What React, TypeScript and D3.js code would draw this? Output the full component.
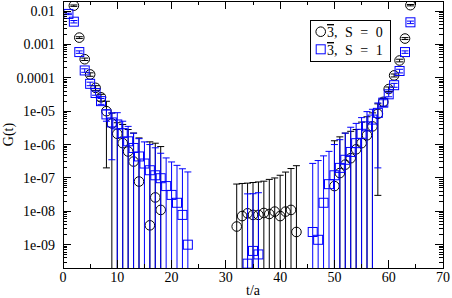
import React from "react";
import * as d3 from "d3";

// S = 0 (circles)
const tS0 = [2, 3, 4, 5, 6, 7, 8, 9, 10, 11, 12, 13, 14, 16, 17, 18,
  32, 33, 34, 35, 36, 37, 38, 39, 40, 41, 42, 43,
  50, 51, 52, 53, 54, 55, 56, 57, 58, 59, 60, 61, 62, 63, 64];
const gS0 = [0.0145, 0.0016, 3.6e-4, 1.26e-4, 5.0e-5, 2.6e-5, 1.0e-5, 4.3e-6, 2.1e-6, 1.1e-6, 6.2e-7, 3.1e-7, 7.8e-8, 3.8e-9, 2.6e-8, 1.1e-8,
  3.5e-9, 7.2e-9, 8.7e-9, 7.8e-9, 7.8e-9, 8.9e-9, 8.3e-9, 9.8e-9, 7.2e-9, 9.8e-9, 1.1e-8, 2.4e-9,
  5.7e-8, 1.4e-7, 2.5e-7, 3.9e-7, 7.2e-7, 1.1e-6, 1.9e-6, 3.5e-6, 8.3e-6, 1.9e-5, 4.6e-5, 1.18e-4, 3.3e-4, 1.5e-3, 0.015];
const eS0 = [7e-4, 1e-4, 3e-5, 1.5e-5, 8e-6, 6e-6, 9.8e-6, 4.5e-6, 2.4e-6, 2.9e-6, 2.2e-6, 1.9e-6, 1.5e-6, 1.2e-6, 1.07e-6, 8.6e-7,
  6.2e-8, 6.1e-8, 6.1e-8, 6.5e-8, 6.8e-8, 7.1e-8, 8.2e-8, 9e-8, 1.13e-7, 1.4e-7, 1.8e-7, 2.3e-7,
  1.24e-6, 1.56e-6, 1.95e-6, 2.1e-6, 2.1e-6, 3.6e-6, 4.9e-6, 5.4e-6, 8.27e-6, 5e-6, 7e-6, 1.2e-5, 3e-5, 1e-4, 7e-4];

// S = 1 (squares)
const tS1 = [1, 2, 3, 4, 5, 6, 7, 8, 9, 10, 11, 12, 13, 14, 15, 16, 17, 18, 19, 20, 21, 22, 23,
  34, 35, 36,
  46, 47, 48, 49, 50, 51, 52, 53, 54, 55, 56, 57, 58, 59, 60, 61, 62, 63, 64];
const gS1 = [0.0082, 0.0048, 5.9e-4, 1.66e-4, 6.6e-5, 3.5e-5, 2.0e-5, 8e-6, 4.6e-6, 4e-6, 2.2e-6, 1.25e-6, 7.9e-7, 4.4e-7, 2.7e-7, 1.7e-7, 1.2e-7, 9.8e-8, 5.7e-8, 3.1e-8, 1.8e-8, 7.8e-9, 1e-9,
  2.7e-10, 6.5e-10, 5.1e-10,
  2.4e-9, 1.4e-9, 1.8e-8, 6.5e-8, 1.2e-7, 2e-7, 3.5e-7, 6e-7, 1.1e-6, 2.1e-6, 3.5e-6, 5.6e-6, 8.9e-6, 1.8e-5, 3.2e-5, 6.0e-5, 1.6e-4, 5.9e-4, 0.0046];
const eS1 = [4e-4, 4e-4, 5e-5, 2e-5, 8e-6, 5e-6, 4e-6, 3e-6, 4.25e-6, 5e-6, 2.8e-6, 2.25e-6, 1.4e-6, 1.06e-6, 9.3e-7, 8.3e-7, 6.8e-7, 4.5e-7, 3.4e-7, 2.7e-7, 2.2e-7, 1.8e-7, 1.5e-7,
  3.3e-8, 3.3e-8, 3.55e-8,
  2.7e-7, 3.3e-7, 4.4e-7, 5.6e-7, 8.8e-7, 1.2e-6, 1.85e-6, 2.7e-6, 3.2e-6, 4.3e-6, 6.2e-6, 5.8e-6, 8.7e-6, 4e-6, 5e-6, 8e-6, 2e-5, 5e-5, 4e-4];

const xTicks = [0, 10, 20, 30, 40, 50, 60, 70];
const xMinor = [5, 15, 25, 35, 45, 55, 65];
const yTicks = [1e-2, 1e-3, 1e-4, 1e-5, 1e-6, 1e-7, 1e-8, 1e-9];
const yTickLabels = ["0.01", "0.001", "0.0001", "1e-05", "1e-06", "1e-07", "1e-08", "1e-09"];

const W = 452;
const H = 298;
const left = 63, right = 443, top = 1, bottom = 268;
const font = "Liberation Serif, Times New Roman, serif";

function ErrSeries({ ts, gs, es, color, shape, x, y }: any) {
  const cap = 3.5;
  const [lo] = y.domain();
  return (
    <g>
      {ts.map((t: number, i: number) => {
        const cx = x(t);
        const up = gs[i] + es[i];
        const low = gs[i] - es[i];
        const yUp = y(up);
        const yLow = low > lo ? y(low) : bottom + 2;
        return (
          <g key={"e" + i} stroke={color} strokeWidth={1}>
            <line x1={cx} x2={cx} y1={yUp} y2={yLow} />
            <line x1={cx - cap} x2={cx + cap} y1={yUp} y2={yUp} />
            {low > lo && <line x1={cx - cap} x2={cx + cap} y1={yLow} y2={yLow} />}
          </g>
        );
      })}
      {ts.map((t: number, i: number) => {
        const cx = x(t);
        const cy = y(gs[i]);
        return shape === "circle" ? (
          <circle key={"p" + i} cx={cx} cy={cy} r={4.8} fill="none" stroke={color} strokeWidth={1} />
        ) : (
          <rect key={"p" + i} x={cx - 4.5} y={cy - 4.5} width={9} height={9} fill="none" stroke={color} strokeWidth={1} />
        );
      })}
    </g>
  );
}

export default function App() {
  const x = d3.scaleLinear().domain([0, 70]).range([left, right]);
  const y = d3.scaleLog().domain([2e-10, 0.02]).range([bottom, top]);

  const yMinor: number[] = [];
  for (let k = -10; k <= -2; k++) {
    for (let m = 2; m <= 9; m++) {
      const v = m * Math.pow(10, k);
      if (v > 2e-10 && v < 0.02) yMinor.push(v);
    }
  }

  const txt = { fontFamily: font, fontSize: "14px" };

  return (
    <svg width={W} height={H} style={{ position: "absolute", left: 0, top: 0, background: "#fff" }}>
      <defs>
        <clipPath id="plot">
          <rect x={left} y={top} width={right - left} height={bottom - top} />
        </clipPath>
      </defs>
      <rect width={W} height={H} fill="#fff" />

      <g clipPath="url(#plot)">
        <ErrSeries ts={tS0} gs={gS0} es={eS0} color="#000" shape="circle" x={x} y={y} />
        <ErrSeries ts={tS1} gs={gS1} es={eS1} color="#0000ff" shape="square" x={x} y={y} />
      </g>

      {/* ticks */}
      <g stroke="#000" strokeWidth={1} shapeRendering="crispEdges">
        {xTicks.map((t) => (
          <g key={"xt" + t}>
            <line x1={x(t)} x2={x(t)} y1={bottom} y2={bottom - 8} />
            <line x1={x(t)} x2={x(t)} y1={top} y2={top + 8} />
          </g>
        ))}
        {xMinor.map((t) => (
          <g key={"xm" + t}>
            <line x1={x(t)} x2={x(t)} y1={bottom} y2={bottom - 4} />
            <line x1={x(t)} x2={x(t)} y1={top} y2={top + 4} />
          </g>
        ))}
        {yTicks.map((v) => (
          <g key={"yt" + v}>
            <line x1={left} x2={left + 8} y1={y(v)} y2={y(v)} />
            <line x1={right} x2={right - 8} y1={y(v)} y2={y(v)} />
          </g>
        ))}
        {yMinor.map((v, i) => (
          <g key={"ym" + i}>
            <line x1={left} x2={left + 4} y1={y(v)} y2={y(v)} />
            <line x1={right} x2={right - 4} y1={y(v)} y2={y(v)} />
          </g>
        ))}
        <rect x={left} y={top} width={right - left} height={bottom - top} fill="none" />
      </g>

      {/* tick labels */}
      <g fill="#000">
        {xTicks.map((t) => (
          <text key={"xl" + t} x={x(t)} y={282} textAnchor="middle" style={txt}>{t}</text>
        ))}
        {yTicks.map((v, i) => (
          <text key={"yl" + i} x={55} y={y(v) + 5} textAnchor="end" style={txt}>{yTickLabels[i]}</text>
        ))}
      </g>

      <text x={(left + right) / 2} y={295} textAnchor="middle" style={txt}>t/a</text>
      <text transform={`translate(13,${(top + bottom) / 2}) rotate(-90)`} textAnchor="middle" style={txt}>G(t)</text>

      {/* legend */}
      <g>
        <rect x={310.5} y={20.5} width={80} height={41} fill="#fff" stroke="#000" strokeWidth={1} />
        <circle cx={320.7} cy={31.7} r={4.8} fill="none" stroke="#000" />
        <rect x={316.2} y={44.8} width={9} height={9} fill="none" stroke="#0000ff" />
        <text x={327} y={37} style={{ ...txt, whiteSpace: "pre", wordSpacing: "4px" }}>
          <tspan textDecoration="overline">3</tspan>, S = 0
        </text>
        <text x={327} y={55} style={{ ...txt, whiteSpace: "pre", wordSpacing: "4px" }}>
          <tspan textDecoration="overline">3</tspan>, S = 1
        </text>
      </g>
    </svg>
  );
}
